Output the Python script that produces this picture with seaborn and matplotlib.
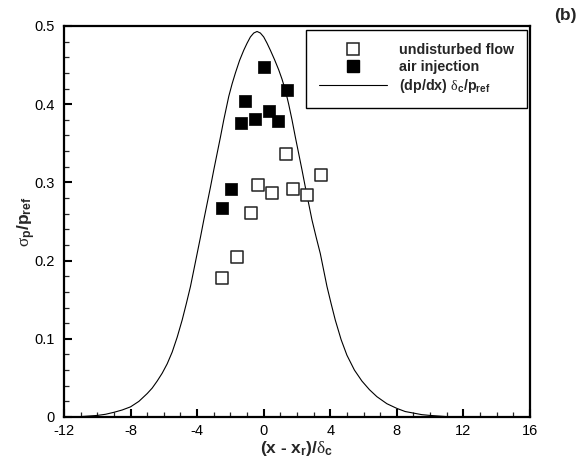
import matplotlib
matplotlib.use('Agg')
import matplotlib.pyplot as plt
import seaborn as sns
import pandas as pd
from matplotlib.ticker import MultipleLocator, FixedLocator
from matplotlib.lines import Line2D

# ---- data ----
undisturbed_x = [-2.48, -1.62, -0.78, -0.36, 0.48, 1.34, 1.76, 2.58, 3.42]
undisturbed_y = [0.178, 0.204, 0.261, 0.297, 0.287, 0.336, 0.292, 0.284, 0.309]
injection_x = [-2.52, -1.98, -1.38, -1.14, -0.54, 0.00, 0.30, 0.84, 1.38]
injection_y = [0.267, 0.292, 0.376, 0.404, 0.381, 0.447, 0.391, 0.379, 0.418]
curve_x = [-12, -11, -10, -9.5, -9, -8.5, -8, -7.5, -7, -6.7, -6.4, -6.1, -5.8, -5.5,
           -5.2, -4.9, -4.65, -4.4, -4.2, -4.0, -3.8, -3.6, -3.4, -3.2, -3.0, -2.8,
           -2.6, -2.4, -2.1, -1.9, -1.7, -1.45, -1.2, -1.0, -0.8, -0.6, -0.4, -0.2,
           0.0, 0.2, 0.4, 0.65, 0.9, 1.1, 1.3, 1.5, 1.7, 1.9, 2.1, 2.3, 2.5, 2.7,
           2.9, 3.15, 3.4, 3.6, 3.8, 4.05, 4.3, 4.65, 5.0, 5.45, 5.9, 6.35, 6.8,
           7.4, 8.0, 8.5, 9.0, 9.5, 10.0, 11.0, 12.0, 16.0]
curve_y = [0.0, 0.0005, 0.002, 0.0035, 0.006, 0.009, 0.013, 0.020, 0.030, 0.037,
           0.046, 0.056, 0.068, 0.083, 0.102, 0.124, 0.145, 0.167, 0.188, 0.209,
           0.230, 0.252, 0.273, 0.294, 0.316, 0.337, 0.358, 0.380, 0.410, 0.426,
           0.440, 0.456, 0.469, 0.478, 0.486, 0.491, 0.493, 0.491, 0.486, 0.478,
           0.469, 0.457, 0.444, 0.432, 0.418, 0.400, 0.380, 0.358, 0.337, 0.316,
           0.294, 0.273, 0.252, 0.230, 0.209, 0.188, 0.167, 0.145, 0.124, 0.099,
           0.079, 0.060, 0.046, 0.035, 0.026, 0.017, 0.011, 0.007, 0.005, 0.003,
           0.002, 0.0005, 0.0, 0.0]
x_ticks = [-12, -8, -4, 0, 4, 8, 12, 16]
y_ticks = [0, 0.1, 0.2, 0.3, 0.4, 0.5]
y_tick_labels = ['0', '0.1', '0.2', '0.3', '0.4', '0.5']
labels = ['undisturbed flow', 'air injection', '(dp/dx) $\\delta_\\mathrm{c}$/p$_\\mathrm{ref}$']

sns.set_style('white')
plt.rcParams['font.family'] = ['Liberation Sans', 'DejaVu Sans']
plt.rcParams['axes.unicode_minus'] = False
plt.rcParams['mathtext.fontset'] = 'custom'
plt.rcParams['mathtext.rm'] = 'Liberation Sans:bold'
plt.rcParams['mathtext.bf'] = 'Liberation Sans:bold'
plt.rcParams['mathtext.it'] = 'Liberation Serif'

df_u = pd.DataFrame({'x': undisturbed_x, 'y': undisturbed_y})
df_a = pd.DataFrame({'x': injection_x, 'y': injection_y})
df_c = pd.DataFrame({'x': curve_x, 'y': curve_y})

fig = plt.figure(figsize=(5.84, 4.58), dpi=100)
ax = fig.add_axes([64/584, 1-417/458, (530-64)/584, (417-26)/458])

sns.lineplot(data=df_c, x='x', y='y', ax=ax, color='black', lw=0.8,
             sort=False, estimator=None, legend=False)
sns.scatterplot(data=df_u, x='x', y='y', ax=ax, marker='s', s=85,
                facecolor='white', edgecolor='#222222', linewidth=1.1, legend=False, zorder=3)
sns.scatterplot(data=df_a, x='x', y='y', ax=ax, marker='s', s=85,
                color='black', edgecolor='black', linewidth=0.5, legend=False, zorder=3)

ax.set_xlim(-12, 16)
ax.set_ylim(0, 0.5)
ax.xaxis.set_major_locator(FixedLocator(x_ticks))
ax.xaxis.set_minor_locator(MultipleLocator(1))
ax.yaxis.set_major_locator(FixedLocator(y_ticks))
ax.yaxis.set_minor_locator(MultipleLocator(0.02))
ax.set_yticklabels(y_tick_labels)
ax.tick_params(which='major', direction='in', length=6, width=1.5, labelsize=10.5,
               colors='black', pad=5, top=False, right=False, bottom=True, left=True)
ax.tick_params(which='minor', direction='in', length=3.5, width=0.9,
               top=False, right=False, bottom=True, left=True)
ax.tick_params(axis='y', which='major', pad=7)
for sp in ax.spines.values():
    sp.set_linewidth(1.6)
    sp.set_color('black')

ax.set_xlabel('(x - x$_\\mathrm{r}$)/$\\delta_\\mathrm{c}$', fontsize=12.5, fontweight='bold', labelpad=1)
ax.set_ylabel('$\\sigma_\\mathrm{p}$/p$_\\mathrm{ref}$', fontsize=12.5, fontweight='bold', labelpad=-3)

handles = [
    Line2D([], [], ls='none', marker='s', markersize=9, markerfacecolor='white',
           markeredgecolor='#222222', markeredgewidth=1.1),
    Line2D([], [], ls='none', marker='s', markersize=9, markerfacecolor='black',
           markeredgecolor='black'),
    Line2D([], [], color='black', lw=0.8),
]
leg = ax.legend(handles, labels, loc='upper right', bbox_to_anchor=(0.994, 0.99),
                borderaxespad=0.0,
                frameon=True, fancybox=False, shadow=False, handlelength=4.75,
                handletextpad=0.84, labelspacing=0.22, borderpad=0.9,
                prop={'weight': 'bold', 'size': 10.3, 'family': 'Liberation Sans'})
leg.get_frame().set_edgecolor('black')
leg.get_frame().set_linewidth(1.0)
leg.get_frame().set_alpha(1)

fig.text(0.988, 0.982, '(b)', ha='right', va='top', fontsize=12.5, fontweight='bold')

fig.savefig('out.png', dpi=100)
